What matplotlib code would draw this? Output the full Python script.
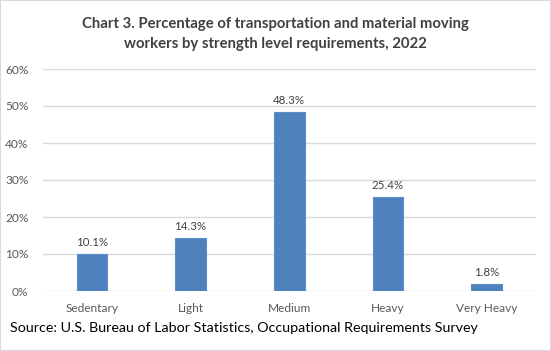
import matplotlib
matplotlib.use("Agg")
import matplotlib.pyplot as plt
from matplotlib.patches import Rectangle

categories = ["Sedentary", "Light", "Medium", "Heavy", "Very Heavy"]
values = [10.1, 14.3, 48.3, 25.4, 1.8]
yticks = [0, 10, 20, 30, 40, 50, 60]
ytick_labels = ["0%", "10%", "20%", "30%", "40%", "50%", "60%"]
title = "Chart 3. Percentage of transportation and material moving\nworkers by strength level requirements, 2022"
source = "Source: U.S. Bureau of Labor Statistics, Occupational Requirements Survey"

plt.rcParams['font.family'] = ['Lato', 'DejaVu Sans']

fig = plt.figure(figsize=(5.51, 3.51), dpi=100)
fig.patch.set_facecolor("white")
fig.patches.append(Rectangle((0, 0), 1, 1, transform=fig.transFigure, fill=False,
                             edgecolor="#D9D9D9", linewidth=1.5))

ax = fig.add_axes([42.5/551, 60/351, 493.5/551, 222/351])
x = list(range(len(categories)))
bars = ax.bar(x, values, width=0.31, color="#4F81BD", edgecolor="#5B8FCC", linewidth=0.8, zorder=3)
for xi, v in zip(x, values):
    ax.text(xi, v + 1.6, f"{v:.1f}%", ha="center", va="bottom", fontsize=8.3, color="#404040")

ax.set_xlim(-0.5, len(categories) - 0.5)
ax.set_ylim(0, 60)
ax.set_yticks(yticks)
ax.set_yticklabels(ytick_labels)
ax.set_xticks(x)
ax.set_xticklabels(categories)
ax.tick_params(axis="both", length=0, labelsize=8.6, colors="#595959")
ax.tick_params(axis="y", pad=10)
ax.tick_params(axis="x", pad=9)
for s in ax.spines.values():
    s.set_visible(False)
ax.grid(axis="y", color="#D9D9D9", linewidth=1, zorder=0)
ax.set_axisbelow(True)

fig.text(0.5, 1 - 34/351, title, ha="center", va="center", fontsize=10.7,
         fontweight="bold", color="#404040", linespacing=1.6)
fig.text(10/551, 1 - 328/351, source, ha="left", va="center", fontsize=10.3, color="black")

fig.savefig("out.png", dpi=100)
